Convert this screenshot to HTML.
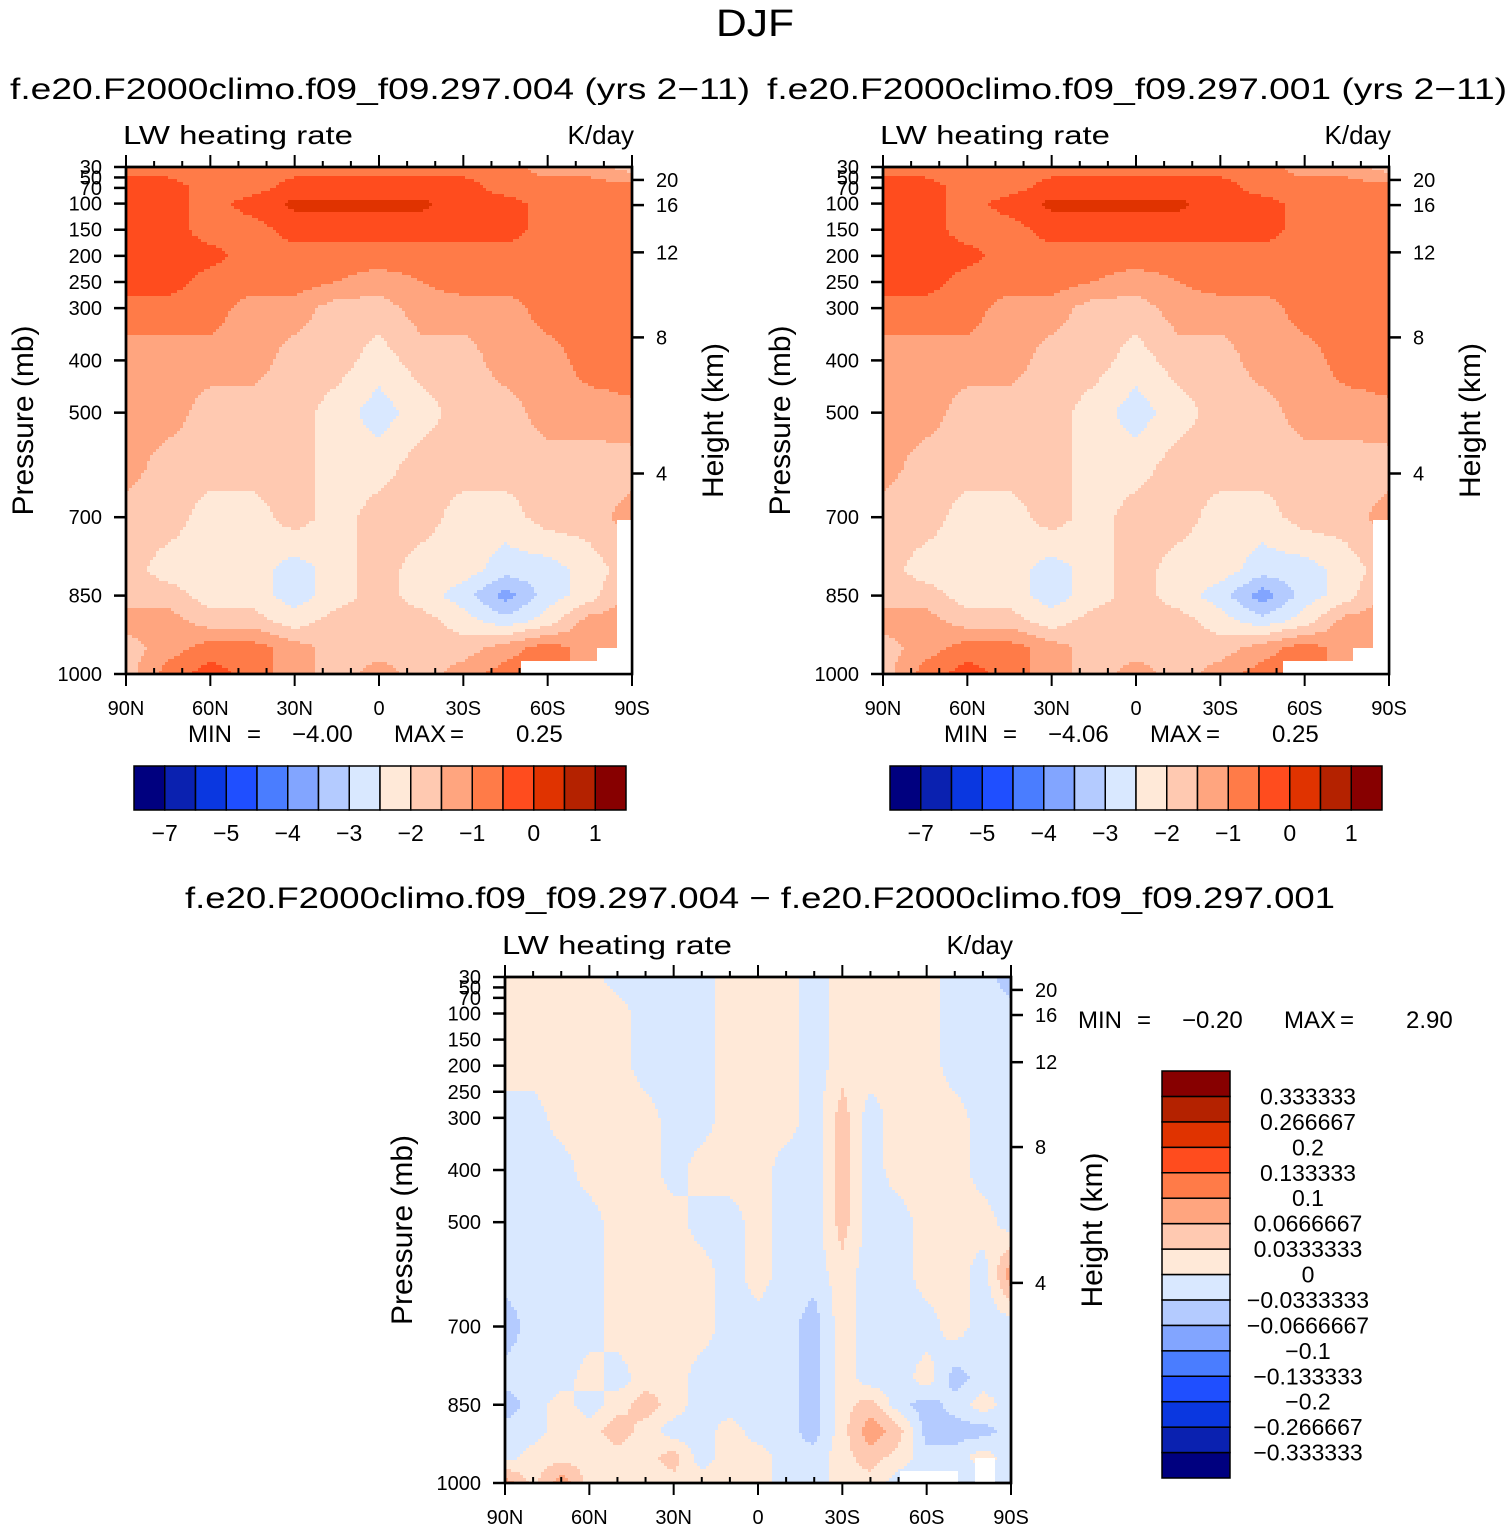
<!DOCTYPE html>
<html><head><meta charset="utf-8">
<style>
html,body{margin:0;padding:0;background:#fff;}
svg{display:block;font-family:"Liberation Sans",sans-serif;}
</style></head>
<body>
<svg id="fig" width="1510" height="1531" viewBox="0 0 1510 1531" xmlns="http://www.w3.org/2000/svg">
<text x="755" y="36" font-size="38" text-anchor="middle" textLength="78" lengthAdjust="spacingAndGlyphs">DJF</text>
<text x="10" y="99" font-size="30" textLength="740" lengthAdjust="spacingAndGlyphs">f.e20.F2000climo.f09_f09.297.004 (yrs 2−11)</text>
<text x="767" y="99" font-size="30" textLength="740" lengthAdjust="spacingAndGlyphs">f.e20.F2000climo.f09_f09.297.001 (yrs 2−11)</text>
<text x="185" y="908" font-size="30" textLength="1150" lengthAdjust="spacingAndGlyphs">f.e20.F2000climo.f09_f09.297.004 − f.e20.F2000climo.f09_f09.297.001</text>
<g id="panels"></g>
</svg>
<script>
// ---- data ----
const lats13 = [90,75,60,45,30,15,0,-15,-30,-45,-60,-75,-90];
const presLevels1 = [30,70,100,150,200,250,300,400,500,600,700,800,850,900,950,1000];
// LW heating rate, K/day (case 004)
const field004 = [
[-0.75,-0.75,-0.75,-0.75,-0.75,-0.75,-0.75,-0.75,-0.75,-0.75,-1.25,-1.25,-1.75],
[-0.25,-0.25,-0.75,-0.75,-0.25,-0.25,-0.25,-0.25,-0.25,-0.75,-0.75,-0.75,-0.75],
[-0.25,-0.25,-0.75,-0.25,0.1,0.1,0.1,0.1,-0.25,-0.25,-0.75,-0.75,-0.75],
[-0.25,-0.25,-0.75,-0.75,-0.25,-0.25,-0.25,-0.25,-0.25,-0.25,-0.75,-0.75,-0.75],
[-0.25,-0.25,-0.3,-0.75,-0.75,-0.75,-0.75,-0.75,-0.75,-0.75,-0.75,-0.75,-0.75],
[-0.25,-0.25,-0.75,-0.75,-0.75,-1.0,-1.25,-1.0,-0.75,-0.75,-0.75,-0.75,-0.75],
[-0.75,-0.75,-0.75,-1.25,-1.25,-1.75,-1.75,-1.25,-1.25,-1.25,-0.75,-0.75,-0.75],
[-1.25,-1.25,-1.25,-1.25,-1.75,-1.75,-2.25,-1.75,-1.75,-1.25,-1.25,-0.75,-0.75],
[-1.25,-1.25,-1.75,-1.75,-1.75,-2.25,-2.75,-2.25,-1.75,-1.75,-1.25,-1.25,-1.1],
[-1.25,-1.75,-1.75,-1.75,-1.75,-2.25,-2.25,-1.75,-1.75,-1.75,-1.75,-1.75,-1.75],
[-1.75,-1.75,-2.25,-2.25,-1.75,-2.25,-1.75,-1.75,-2.25,-2.25,-1.75,-1.75,-1.25],
[-1.75,-2.25,-2.25,-2.25,-2.75,-2.25,-1.75,-2.25,-2.25,-2.75,-2.75,-2.25,-1.75],
[-1.75,-1.75,-2.25,-2.25,-2.75,-2.25,-1.75,-2.25,-2.75,-3.75,-2.75,-2.25,-1.25],
[-1.25,-1.25,-1.75,-1.75,-2.25,-1.75,-1.75,-1.75,-2.25,-2.75,-2.25,-1.25,-1.25],
[-1.75,-1.25,-0.75,-0.75,-1.25,-1.75,-1.75,-1.75,-1.75,-1.25,-0.75,-1.25,-1.25],
[-1.75,-0.75,-0.25,-0.75,-1.25,-1.75,-1.25,-1.75,-1.25,-0.75,-0.75,-1.25,-1.25]
];
// case 001
const field001 = [
[-0.75,-0.75,-0.75,-0.75,-0.75,-0.75,-0.75,-0.75,-0.75,-0.75,-1.25,-1.25,-1.75],
[-0.25,-0.25,-0.75,-0.75,-0.25,-0.25,-0.25,-0.25,-0.25,-0.75,-0.75,-0.75,-0.75],
[-0.25,-0.25,-0.75,-0.25,0.1,0.1,0.1,0.1,-0.25,-0.25,-0.75,-0.75,-0.75],
[-0.25,-0.25,-0.75,-0.75,-0.25,-0.25,-0.25,-0.25,-0.25,-0.25,-0.75,-0.75,-0.75],
[-0.25,-0.25,-0.3,-0.75,-0.75,-0.75,-0.75,-0.75,-0.75,-0.75,-0.75,-0.75,-0.75],
[-0.25,-0.25,-0.75,-0.75,-0.75,-1.0,-1.25,-1.0,-0.75,-0.75,-0.75,-0.75,-0.75],
[-0.75,-0.75,-0.75,-1.25,-1.25,-1.75,-1.75,-1.25,-1.25,-1.25,-0.75,-0.75,-0.75],
[-1.25,-1.25,-1.25,-1.25,-1.75,-1.75,-2.25,-1.75,-1.75,-1.25,-1.25,-0.75,-0.75],
[-1.25,-1.25,-1.75,-1.75,-1.75,-2.25,-2.75,-2.25,-1.75,-1.75,-1.25,-1.25,-1.1],
[-1.25,-1.75,-1.75,-1.75,-1.75,-2.25,-2.25,-1.75,-1.75,-1.75,-1.75,-1.75,-1.75],
[-1.75,-1.75,-2.25,-2.25,-1.75,-2.25,-1.75,-1.75,-2.25,-2.25,-1.75,-1.75,-1.25],
[-1.75,-2.25,-2.25,-2.25,-2.75,-2.25,-1.75,-2.25,-2.25,-2.75,-2.75,-2.25,-1.75],
[-1.75,-1.75,-2.25,-2.25,-2.75,-2.25,-1.75,-2.25,-2.75,-3.8,-2.75,-2.25,-1.25],
[-1.25,-1.25,-1.75,-1.75,-2.25,-1.75,-1.75,-1.75,-2.25,-2.75,-2.25,-1.25,-1.25],
[-1.75,-1.25,-0.75,-0.75,-1.25,-1.75,-1.75,-1.75,-1.75,-1.25,-0.75,-1.25,-1.25],
[-1.75,-0.75,-0.25,-0.75,-1.25,-1.75,-1.25,-1.75,-1.25,-0.75,-0.75,-1.25,-1.25]
];
const lats19 = [90,80,70,60,50,40,30,20,10,0,-10,-20,-30,-40,-50,-60,-70,-80,-90];
const presLevels2 = [30,100,200,300,400,500,600,700,800,850,900,950,1000];
// difference 004-001, K/day
const fieldDiff = [
[0.02,0.02,0.02,0.02,-0.02,-0.02,-0.02,-0.02,0.02,0.02,0.02,-0.02,0.02,0.02,0.02,0.02,-0.02,-0.02,-0.05],
[0.02,0.02,0.02,0.02,0.02,-0.02,-0.02,-0.02,0.02,0.02,0.02,-0.02,0.02,0.02,0.02,0.02,-0.02,-0.02,-0.02],
[0.02,0.02,0.02,0.02,0.02,-0.02,-0.02,-0.02,0.02,0.02,0.02,-0.02,0.02,0.02,0.02,0.02,-0.02,-0.02,-0.02],
[-0.02,-0.02,0.02,0.02,0.02,0.02,-0.02,-0.02,0.02,0.02,0.02,-0.02,0.05,-0.02,0.02,0.02,0.02,-0.02,-0.02],
[-0.02,-0.02,-0.02,0.02,0.02,0.02,-0.02,0.02,0.02,0.02,-0.02,-0.02,0.05,-0.02,0.02,0.02,0.02,-0.02,-0.02],
[-0.02,-0.02,-0.02,-0.02,0.02,0.02,0.02,-0.02,-0.02,0.02,-0.02,-0.02,0.05,-0.02,-0.02,0.02,0.02,0.02,-0.02],
[-0.02,-0.02,-0.02,-0.02,0.02,0.02,0.02,0.02,-0.02,0.02,-0.02,-0.02,0.02,-0.02,-0.02,0.02,0.02,-0.02,0.09],
[-0.05,-0.02,-0.02,-0.02,0.02,0.02,0.02,0.02,-0.02,-0.02,-0.02,-0.05,0.02,-0.02,-0.02,-0.02,0.02,-0.02,-0.02],
[-0.02,-0.02,-0.02,0.02,-0.02,0.02,0.02,-0.02,-0.02,-0.02,-0.02,-0.05,0.02,-0.02,-0.02,0.02,-0.05,-0.02,-0.02],
[-0.05,-0.02,0.02,-0.02,0.02,0.05,0.02,-0.02,-0.02,-0.02,-0.02,-0.05,0.02,0.05,-0.02,-0.05,-0.02,0.02,-0.02],
[-0.02,-0.02,0.02,0.02,0.05,0.02,-0.02,-0.02,0.02,-0.02,-0.02,-0.05,0.02,0.09,0.05,-0.05,-0.05,-0.05,-0.02],
[-0.02,0.02,0.02,0.02,0.02,0.02,0.05,-0.02,0.02,0.02,-0.02,-0.02,0.02,0.05,0.02,-0.02,-0.02,0.02,-0.02],
[0.09,0.02,0.09,0.02,0.02,0.02,0.02,0.02,0.02,0.02,-0.02,-0.02,0.02,0.02,-0.02,-0.02,-0.02,-0.02,-0.02]
];
const levelsTop = [-7,-6,-5,-4.5,-4,-3.5,-3,-2.5,-2,-1.5,-1,-0.5,0,0.5,1];
const barLabelsTop = ['−7','','−5','','−4','','−3','','−2','','−1','','0','','1'];
const levelsDiff = [-0.333333,-0.266667,-0.2,-0.133333,-0.1,-0.0666667,-0.0333333,0,0.0333333,0.0666667,0.1,0.133333,0.2,0.266667,0.333333];
const barLabelsDiff = ['−0.333333','−0.266667','−0.2','−0.133333','−0.1','−0.0666667','−0.0333333','0','0.0333333','0.0666667','0.1','0.133333','0.2','0.266667','0.333333'];
const presTicks = [30,50,70,100,150,200,250,300,400,500,700,850,1000];
const heightTicks = [4,8,12,16,20];
const latTickVals = [90,60,30,0,-30,-60,-90];
const latTickLabels = ['90N','60N','30N','0','30S','60S','90S'];
const palette = ['#00007f','#0a21b0','#0a37e0','#1f4fff','#4a7dff','#82a5ff','#b4cbff','#d9e8ff','#ffe9d8','#ffc9b1','#ffa57f','#ff7b48','#ff4c1e','#e03300','#b42200','#870000'];

// ---- drawing ----
const NS='http://www.w3.org/2000/svg';
const root=document.getElementById('panels');
function mk(tag,parent,attrs){const e=document.createElementNS(NS,tag);for(const k in attrs)e.setAttribute(k,attrs[k]);parent.appendChild(e);return e;}
function levelIndex(v,levels){let i=0;while(i<levels.length&&v>=levels[i])i++;return i;}
function heightToP(zkm){const z=zkm*1000;if(z<=11000)return 1013.25*Math.pow(1-2.25577e-5*z,5.25588);return 226.32*Math.exp(-(z-11000)/6341.6);}

function drawPanel(name,ox,oy,w,h,lats,pres,field,levels,stats,labels){
  const g=mk('g',root,{});
  
  
  const xOf=lat=>ox+(90-lat)/180*w;
  const yOf=p=>oy+(p-30)/970*h;
  const cs=3;
  const cells=mk('g',g,{});
  
  
  const nc=lats.length;
  for(let y0=0;y0<h;y0+=cs){
    const p=30+(y0+cs/2)/h*970;
    let k=0;while(k<pres.length-2&&p>pres[k+1])k++;
    const t=Math.min(1,Math.max(0,(p-pres[k])/(pres[k+1]-pres[k])));
    let runStart=0,runIdx=-1;
    const flush=(x1)=>{if(runIdx<0)return;const r=mk('rect',cells,{x:ox+runStart,y:oy+y0,width:x1-runStart+0.6,height:Math.min(cs,h-y0)+0.6,fill:palette[runIdx]});
      
      };
    for(let x0=0;x0<w;x0+=cs){
      const lat=90-(x0+cs/2)/w*180;
      let u=(lats[0]-lat)/(lats[0]-lats[nc-1])*(nc-1);
      let i=Math.min(nc-2,Math.floor(u));const s=u-i;
      const v=(1-t)*((1-s)*field[k][i]+s*field[k][i+1])+t*((1-s)*field[k+1][i]+s*field[k+1][i+1]);
      const idx=levelIndex(v,levels);
      if(idx!==runIdx){flush(x0);runStart=x0;runIdx=idx;}
    }
    flush(Math.min(w,Math.ceil(w/cs)*cs));
  }
  const fr=mk('rect',g,{x:ox,y:oy,width:w,height:h,fill:'none',stroke:'#000','stroke-width':2.5});
  
  
  presTicks.forEach(p=>{const y=yOf(p);
    mk('line',g,{x1:ox-12,x2:ox,y1:y,y2:y,stroke:'#000','stroke-width':2.5});
    const tx=mk('text',g,{x:ox-24,y:y+7,'font-size':20,'text-anchor':'end'});tx.textContent=p;
    
    });
  heightTicks.forEach(z=>{const y=yOf(heightToP(z));
    mk('line',g,{x1:ox+w,x2:ox+w+12,y1:y,y2:y,stroke:'#000','stroke-width':2.5});
    const tx=mk('text',g,{x:ox+w+24,y:y+7,'font-size':20});tx.textContent=z;
    
    });
  for(let lat=90;lat>=-90;lat-=10){const x=xOf(lat);const major=lat%30===0;
    mk('line',g,{x1:x,x2:x,y1:oy,y2:oy-(major?12:6),stroke:'#000','stroke-width':2});
    mk('line',g,{x1:x,x2:x,y1:oy+h,y2:oy+h+(major?12:0)-(major?0:6),stroke:'#000','stroke-width':2});}
  latTickVals.forEach((lat,i)=>{const tx=mk('text',g,{x:xOf(lat),y:oy+h+41,'font-size':20,'text-anchor':'middle'});tx.textContent=latTickLabels[i];
    
    });
  const l1=mk('text',g,{x:ox-3,y:oy-23,'font-size':26,textLength:230,lengthAdjust:'spacingAndGlyphs'});l1.textContent='LW heating rate';
  
  
  const l2=mk('text',g,{x:ox+w+2,y:oy-23,'font-size':26,'text-anchor':'end'});l2.textContent='K/day';
  
  
  const yt=mk('text',g,{x:0,y:0,'font-size':30,'text-anchor':'middle',transform:`translate(${ox-93},${oy+h*0.5}) rotate(-90)`});yt.textContent='Pressure (mb)';
  
  
  const yt2=mk('text',g,{x:0,y:0,'font-size':30,'text-anchor':'middle',transform:`translate(${ox+w+91},${oy+h*0.5}) rotate(-90)`});yt2.textContent='Height (km)';
  
  
  const sx=stats.x, sy=stats.y;
  const parts=[['MIN',0],['=',59],[stats.min,104],['MAX',206],['=',262],[stats.max,328]];
  parts.forEach(pt=>{const tx=mk('text',g,{x:sx+pt[1],y:sy,'font-size':24});tx.textContent=pt[0];
    
    });
  return {xOf,yOf,g};
}

function hBar(name,x,y,w,h,levels,labels){
  const g=mk('g',root,{});
  
  
  const n=palette.length, bw=w/n;
  palette.forEach((c,i)=>{const r=mk('rect',g,{x:x+i*bw,y:y,width:bw,height:h,fill:c,stroke:'#000','stroke-width':1.5});
    
    });
  levels.forEach((lv,i)=>{if(!labels[i])return;const tx=mk('text',g,{x:x+(i+1)*bw,y:y+h+31,'font-size':23,'text-anchor':'middle'});tx.textContent=labels[i];
    
    });
}
function vBar(name,x,y,w,h,levels,labels){
  const g=mk('g',root,{});
  
  
  const n=palette.length, bh=h/n;
  palette.forEach((c,i)=>{const r=mk('rect',g,{x:x,y:y+h-(i+1)*bh,width:w,height:bh,fill:c,stroke:'#000','stroke-width':1.5});
    
    });
  levels.forEach((lv,i)=>{const tx=mk('text',g,{x:x+146,y:y+h-(i+1)*bh+8,'font-size':23,'text-anchor':'middle'});tx.textContent=labels[i];
    
    });
}
function blank(g,x,y,w,h){const r=mk('rect',g,{x,y,width:w,height:h,fill:'#fff'});
  
  }

const P1=drawPanel('left-panel',126,167,506,507,lats13,presLevels1,field004,levelsTop,{x:188,y:742,min:'−4.00',max:'0.25'});
blank(P1.g,521,661,76,12);blank(P1.g,597,648,20,25);blank(P1.g,617,520,14,153);
const P2=drawPanel('right-panel',883,167,506,507,lats13,presLevels1,field001,levelsTop,{x:944,y:742,min:'−4.06',max:'0.25'});
blank(P2.g,1283,661,70,12);blank(P2.g,1353,648,20,25);blank(P2.g,1373,520,15,153);
const P3=drawPanel('diff-panel',505,977,506,506,lats19,presLevels2,fieldDiff,levelsDiff,{x:1078,y:1028,min:'−0.20',max:'2.90'});
blank(P3.g,900,1471,58,11);blank(P3.g,975,1458,20,24);
hBar('left-colorbar',134,766,492,44,levelsTop,barLabelsTop);
hBar('right-colorbar',890,766,492,44,levelsTop,barLabelsTop);
vBar('diff-colorbar',1162,1071,68,407,levelsDiff,barLabelsDiff);
[[126,167,506,507],[883,167,506,507],[505,977,506,506]].forEach(f=>{const r=mk('rect',root,{x:f[0],y:f[1],width:f[2],height:f[3],fill:'none',stroke:'#000','stroke-width':2.5});
  
  });
</script>
</body></html>
